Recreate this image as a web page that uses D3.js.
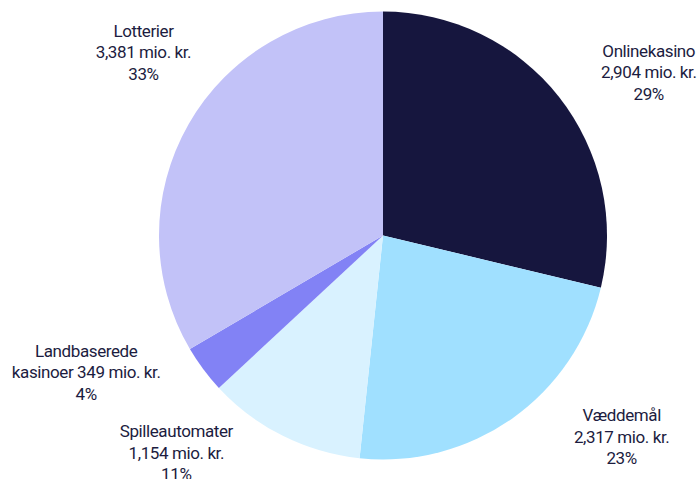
<!DOCTYPE html>
<html>
<head>
<meta charset="utf-8">
<script src="https://cdn.jsdelivr.net/npm/d3@7"></script>
<style>
  html, body { margin: 0; padding: 0; background: #fff; }
  svg text { font-family: Roboto, "Noto Sans", sans-serif; font-size: 17px; letter-spacing: -0.4px; fill: #1c1c40; }
</style>
</head>
<body>
<div id="chart"></div>
<script>
// kategorier og værdier (mio. kr.)
let categories = ["Onlinekasino", "Væddemål", "Spilleautomater", "Landbaserede kasinoer", "Lotterier"];
let values = [2904, 2317, 1154, 349, 3381];
let percentLabels = ["29%", "23%", "11%", "4%", "33%"];
let colors = ["#16163e", "#a0e0ff", "#d9f2ff", "#8282f5", "#c2c2f8"];

// how each label is broken into lines
let labelLines = [
    ["Onlinekasino", "2,904 mio. kr.", "29%"],
    ["Væddemål", "2,317 mio. kr.", "23%"],
    ["Spilleautomater", "1,154 mio. kr.", "11%"],
    ["Landbaserede", "kasinoer 349 mio. kr.", "4%"],
    ["Lotterier", "3,381 mio. kr.", "33%"]
];
// nudges from the outer label arc
let labelShift = [[31, 22], [66, -43], [-73, -50], [-57, -42], [20, -35]];

let width = 699, height = 479;
let cx = 383, cy = 235.5, radius = 224;

let svg = d3.select("#chart")
    .append("svg")
    .attr("width", width)
    .attr("height", height);

let pie = d3.pie().sort(null).value(d => d);
let arcs = pie(values);

let arc = d3.arc().innerRadius(0).outerRadius(radius);
let labelArc = d3.arc().innerRadius(radius + 75).outerRadius(radius + 75);

let g = svg.append("g").attr("transform", "translate(" + cx + "," + cy + ")");

g.selectAll(".slice")
    .data(arcs)
    .enter()
    .append("path")
    .attr("class", "slice")
    .attr("fill", (d, i) => colors[i])
    .attr("d", arc);

let lineH = 21.5;
let labels = g.selectAll(".label")
    .data(arcs)
    .enter()
    .append("text")
    .attr("class", "label")
    .attr("text-anchor", "middle")
    .attr("transform", function (d, i) {
        let c = labelArc.centroid(d);
        return "translate(" + (c[0] + labelShift[i][0]) + "," + (c[1] + labelShift[i][1]) + ")";
    });

labels.selectAll("tspan")
    .data((d, i) => labelLines[i])
    .enter()
    .append("tspan")
    .attr("x", 0)
    .attr("y", (d, j) => (j - 1) * lineH + 6)
    .text(d => d);
</script>
</body>
</html>
